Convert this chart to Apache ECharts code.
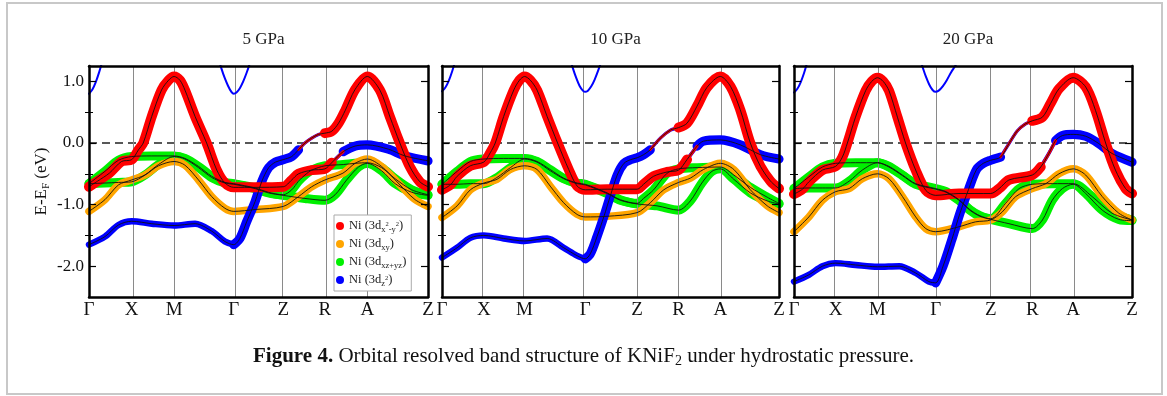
<!DOCTYPE html>
<html>
<head>
<meta charset="utf-8">
<script src="https://cdn.jsdelivr.net/npm/echarts@6/dist/echarts.min.js"></script>
<style>
  html, body { margin: 0; padding: 0; background: #fff; }
  #chart { width: 1167px; height: 396px; }
</style>
</head>
<body>
<div id="chart"></div>
<script>
// ---- path labels and panel titles ----
const kLabels = ['Γ', 'X', 'M', 'Γ', 'Z', 'R', 'A', 'Z'];
const pressures = ['5 GPa', '10 GPa', '20 GPa'];

// ---- 5 GPa: high-symmetry positions (normalised k-distance) and bands [k, E-EF (eV)] ----
const kTicks5 = [0, 0.126, 0.251, 0.427, 0.573, 0.696, 0.821, 1];
const upper5 = [[0,-1.65],[0.047,-1.52],[0.087,-1.33],[0.126,-1.27],[0.185,-1.31],[0.251,-1.34],[0.313,-1.31],[0.362,-1.43],[0.401,-1.60],[0.427,-1.65],[0.445,-1.55],[0.465,-1.28],[0.49,-0.95],[0.51,-0.62],[0.53,-0.40],[0.55,-0.31],[0.573,-0.27],[0.598,-0.22],[0.618,-0.11],[0.637,0.0],[0.657,0.08],[0.677,0.14],[0.696,0.16],[0.716,0.19],[0.736,0.32],[0.756,0.53],[0.785,0.87],[0.821,1.08],[0.858,0.86],[0.888,0.42],[0.917,0.0],[0.947,-0.39],[0.976,-0.63],[1,-0.71]];
const mid5 = [[0,-0.71],[0.025,-0.62],[0.06,-0.49],[0.096,-0.30],[0.126,-0.27],[0.146,-0.11],[0.16,0.0],[0.185,0.43],[0.214,0.86],[0.235,1.02],[0.251,1.08],[0.268,1.02],[0.283,0.86],[0.313,0.43],[0.347,0.0],[0.377,-0.44],[0.401,-0.65],[0.427,-0.72],[0.49,-0.72],[0.573,-0.71],[0.598,-0.60],[0.618,-0.50],[0.657,-0.44],[0.696,-0.42],[0.716,-0.32],[0.75,-0.14],[0.785,-0.05],[0.821,-0.03],[0.883,-0.10],[0.932,-0.21],[1,-0.29]];
const gUp5 = [[0,-0.66],[0.047,-0.46],[0.087,-0.28],[0.126,-0.22],[0.185,-0.21],[0.251,-0.21],[0.283,-0.25],[0.323,-0.38],[0.362,-0.54],[0.401,-0.64],[0.427,-0.66],[0.49,-0.73],[0.529,-0.80],[0.573,-0.84],[0.598,-0.76],[0.618,-0.62],[0.637,-0.52],[0.657,-0.44],[0.696,-0.37],[0.75,-0.35],[0.785,-0.33],[0.821,-0.32],[0.863,-0.40],[0.903,-0.58],[0.952,-0.76],[1,-0.84]];
const gLo5 = [[0,-0.66],[0.047,-0.65],[0.087,-0.64],[0.126,-0.63],[0.165,-0.52],[0.205,-0.35],[0.251,-0.22],[0.283,-0.26],[0.323,-0.40],[0.362,-0.56],[0.401,-0.65],[0.427,-0.67],[0.49,-0.74],[0.529,-0.81],[0.573,-0.85],[0.637,-0.90],[0.696,-0.93],[0.726,-0.84],[0.76,-0.60],[0.795,-0.39],[0.821,-0.33],[0.863,-0.45],[0.903,-0.66],[0.952,-0.80],[1,-0.85]];
const orange5 = [[0,-1.11],[0.047,-0.92],[0.087,-0.68],[0.126,-0.60],[0.165,-0.52],[0.205,-0.37],[0.251,-0.30],[0.283,-0.36],[0.323,-0.60],[0.362,-0.87],[0.401,-1.06],[0.427,-1.11],[0.49,-1.08],[0.573,-1.03],[0.618,-0.87],[0.657,-0.71],[0.696,-0.60],[0.749,-0.49],[0.785,-0.33],[0.821,-0.26],[0.863,-0.38],[0.912,-0.65],[0.962,-0.92],[1,-1.03]];
const topA5 = [[0,0.80],[0.01,0.87],[0.02,0.99],[0.03,1.15],[0.04,1.34]];
const topB5 = [[0.38,1.40],[0.39,1.22],[0.40,1.06],[0.41,0.93],[0.42,0.83],[0.427,0.80],[0.435,0.82],[0.445,0.89],[0.455,1.0],[0.465,1.14],[0.475,1.30]];

// ---- 10 GPa ----
const kTicks10 = [0, 0.124, 0.245, 0.425, 0.579, 0.702, 0.826, 1];
const upper10 = [[0,-1.86],[0.045,-1.70],[0.084,-1.54],[0.124,-1.50],[0.183,-1.55],[0.245,-1.59],[0.312,-1.55],[0.361,-1.70],[0.401,-1.83],[0.425,-1.88],[0.44,-1.80],[0.46,-1.52],[0.48,-1.20],[0.50,-0.85],[0.52,-0.52],[0.54,-0.33],[0.56,-0.27],[0.579,-0.24],[0.598,-0.19],[0.618,-0.11],[0.648,0.08],[0.678,0.21],[0.702,0.25],[0.727,0.32],[0.757,0.60],[0.786,0.90],[0.826,1.08],[0.856,0.92],[0.885,0.54],[0.915,0.0],[0.945,-0.38],[0.975,-0.62],[1,-0.74]];
const mid10 = [[0,-0.76],[0.025,-0.68],[0.045,-0.54],[0.084,-0.37],[0.124,-0.31],[0.143,-0.16],[0.158,0.0],[0.183,0.43],[0.213,0.86],[0.23,1.02],[0.245,1.08],[0.262,1.02],[0.282,0.86],[0.312,0.43],[0.343,0.0],[0.376,-0.43],[0.401,-0.70],[0.425,-0.76],[0.49,-0.75],[0.579,-0.75],[0.598,-0.67],[0.628,-0.54],[0.668,-0.47],[0.702,-0.44],[0.727,-0.27],[0.757,-0.05],[0.776,0.03],[0.826,0.05],[0.885,-0.03],[0.945,-0.19],[1,-0.26]];
const gUp10 = [[0,-0.67],[0.045,-0.46],[0.084,-0.30],[0.124,-0.26],[0.183,-0.25],[0.245,-0.25],[0.282,-0.30],[0.321,-0.43],[0.361,-0.57],[0.401,-0.65],[0.425,-0.67],[0.49,-0.81],[0.529,-0.92],[0.579,-0.98],[0.598,-0.90],[0.628,-0.76],[0.668,-0.49],[0.702,-0.42],[0.757,-0.40],[0.826,-0.39],[0.866,-0.52],[0.915,-0.72],[0.965,-0.88],[1,-0.98]];
const gLo10 = [[0,-0.67],[0.045,-0.67],[0.084,-0.66],[0.124,-0.66],[0.163,-0.56],[0.203,-0.40],[0.245,-0.26],[0.282,-0.31],[0.321,-0.45],[0.361,-0.58],[0.401,-0.66],[0.425,-0.68],[0.49,-0.82],[0.529,-0.93],[0.579,-0.99],[0.638,-1.02],[0.702,-1.09],[0.737,-0.94],[0.771,-0.65],[0.801,-0.46],[0.826,-0.42],[0.866,-0.59],[0.915,-0.81],[0.965,-0.94],[1,-0.99]];
const orange10 = [[0,-1.21],[0.045,-1.02],[0.084,-0.76],[0.124,-0.65],[0.163,-0.59],[0.203,-0.43],[0.245,-0.37],[0.282,-0.43],[0.321,-0.70],[0.361,-0.97],[0.401,-1.16],[0.425,-1.20],[0.49,-1.19],[0.579,-1.13],[0.618,-0.97],[0.658,-0.76],[0.702,-0.64],[0.737,-0.57],[0.776,-0.43],[0.826,-0.33],[0.866,-0.43],[0.915,-0.76],[0.965,-1.02],[1,-1.13]];
const topA10 = [[0,0.84],[0.01,0.90],[0.02,1.01],[0.03,1.16],[0.04,1.35]];
const topB10 = [[0.378,1.40],[0.388,1.22],[0.398,1.06],[0.408,0.93],[0.418,0.85],[0.425,0.83],[0.433,0.85],[0.443,0.92],[0.453,1.03],[0.463,1.17],[0.473,1.33]];

// ---- 20 GPa ----
const kTicks20 = [0, 0.123, 0.247, 0.419, 0.582, 0.705, 0.826, 1];
const upper20 = [[0,-2.25],[0.044,-2.14],[0.084,-2.0],[0.123,-1.95],[0.182,-1.98],[0.247,-2.01],[0.311,-2.0],[0.360,-2.11],[0.399,-2.25],[0.419,-2.27],[0.441,-2.0],[0.467,-1.57],[0.491,-1.14],[0.516,-0.76],[0.54,-0.43],[0.56,-0.33],[0.582,-0.28],[0.611,-0.23],[0.636,-0.01],[0.661,0.20],[0.685,0.31],[0.705,0.36],[0.735,0.42],[0.759,0.64],[0.784,0.88],[0.826,1.06],[0.863,0.91],[0.892,0.53],[0.922,0.0],[0.951,-0.44],[0.981,-0.74],[1,-0.82]];
const mid20 = [[0,-0.83],[0.025,-0.75],[0.044,-0.63],[0.084,-0.44],[0.123,-0.38],[0.143,-0.23],[0.158,0.0],[0.182,0.42],[0.212,0.85],[0.23,1.0],[0.247,1.06],[0.264,1.0],[0.281,0.85],[0.306,0.42],[0.330,0.0],[0.360,-0.44],[0.390,-0.77],[0.419,-0.85],[0.488,-0.82],[0.582,-0.82],[0.607,-0.74],[0.636,-0.60],[0.705,-0.52],[0.730,-0.39],[0.754,-0.17],[0.774,0.04],[0.794,0.12],[0.826,0.14],[0.863,0.11],[0.902,-0.01],[0.941,-0.17],[1,-0.31]];
const gUp20 = [[0,-0.74],[0.044,-0.55],[0.084,-0.39],[0.123,-0.33],[0.182,-0.32],[0.247,-0.32],[0.281,-0.38],[0.321,-0.52],[0.360,-0.66],[0.419,-0.74],[0.45,-0.79],[0.488,-0.92],[0.52,-1.08],[0.55,-1.18],[0.582,-1.23],[0.626,-0.98],[0.666,-0.74],[0.705,-0.67],[0.764,-0.66],[0.826,-0.66],[0.882,-0.87],[0.941,-1.14],[1,-1.25]];
const gLo20 = [[0,-0.74],[0.044,-0.73],[0.084,-0.73],[0.123,-0.73],[0.163,-0.62],[0.202,-0.44],[0.247,-0.32],[0.281,-0.39],[0.321,-0.53],[0.360,-0.67],[0.419,-0.75],[0.45,-0.80],[0.488,-0.93],[0.52,-1.09],[0.55,-1.19],[0.582,-1.24],[0.636,-1.31],[0.705,-1.39],[0.735,-1.25],[0.764,-0.93],[0.794,-0.74],[0.826,-0.67],[0.863,-0.82],[0.912,-1.09],[0.961,-1.24],[1,-1.26]];
const orange20 = [[0,-1.44],[0.044,-1.20],[0.084,-0.93],[0.123,-0.79],[0.163,-0.74],[0.202,-0.58],[0.247,-0.50],[0.281,-0.58],[0.321,-0.87],[0.360,-1.20],[0.390,-1.39],[0.419,-1.44],[0.488,-1.36],[0.537,-1.28],[0.582,-1.25],[0.616,-1.12],[0.656,-0.87],[0.705,-0.74],[0.745,-0.66],[0.784,-0.50],[0.826,-0.42],[0.863,-0.52],[0.912,-0.87],[0.961,-1.14],[1,-1.25]];
const topA20 = [[0,0.82],[0.01,0.88],[0.02,0.99],[0.03,1.14],[0.04,1.33]];
const topB20 = [[0.370,1.40],[0.380,1.24],[0.390,1.08],[0.400,0.95],[0.410,0.86],[0.419,0.83],[0.428,0.85],[0.440,0.92],[0.452,1.02],[0.465,1.15],[0.478,1.26],[0.488,1.38]];

// ---- orbital character along the bands: [band, orbital, kFrom, kTo, relative weight] ----
const weights5 = [
  ['upper','dz2',0,0.427,0.8], ['upper','dz2',0.427,0.618,1.15], ['upper','dz2',0.618,0.716,0.4],
  ['upper','dx2y2',0.618,0.696,0.25], ['upper','dx2y2',0.696,1,1],
  ['mid','dx2y2',0,0.716,1], ['mid','dx2y2',0.716,0.75,0.3],
  ['mid','dz2',0.716,0.75,0.45], ['mid','dz2',0.75,1,1.15],
  ['gUp','dxz',0,1,1], ['gLo','dxz',0,1,1], ['orange','dxy',0,1,1],
  ['topA','dz2',0,1,0.25], ['topB','dz2',0,1,0.25]
];
const weights10 = [
  ['upper','dz2',0,0.425,0.8], ['upper','dz2',0.425,0.618,1.15], ['upper','dz2',0.618,0.727,0.4],
  ['upper','dx2y2',0.618,0.702,0.25], ['upper','dx2y2',0.702,1,1],
  ['mid','dx2y2',0,0.727,1], ['mid','dx2y2',0.727,0.757,0.3],
  ['mid','dz2',0.727,0.757,0.45], ['mid','dz2',0.757,1,1.15],
  ['gUp','dxz',0,1,1], ['gLo','dxz',0,1,1], ['orange','dxy',0,1,1],
  ['topA','dz2',0,1,0.25], ['topB','dz2',0,1,0.25]
];
const weights20 = [
  ['upper','dz2',0,0.419,0.8], ['upper','dz2',0.419,0.611,1.15], ['upper','dz2',0.611,0.735,0.4],
  ['upper','dx2y2',0.611,0.705,0.25], ['upper','dx2y2',0.705,1,1],
  ['mid','dx2y2',0,0.730,1], ['mid','dx2y2',0.730,0.774,0.3],
  ['mid','dz2',0.730,0.774,0.45], ['mid','dz2',0.774,1,1.15],
  ['gUp','dxz',0,1,1], ['gLo','dxz',0,1,1], ['orange','dxy',0,1,1],
  ['topA','dz2',0,1,0.25], ['topB','dz2',0,1,0.25]
];

const panels = [
  { title: pressures[0], ticks: kTicks5, weights: weights5,
    bands: { upper: upper5, mid: mid5, gUp: gUp5, gLo: gLo5, orange: orange5, topA: topA5, topB: topB5 } },
  { title: pressures[1], ticks: kTicks10, weights: weights10,
    bands: { upper: upper10, mid: mid10, gUp: gUp10, gLo: gLo10, orange: orange10, topA: topA10, topB: topB10 } },
  { title: pressures[2], ticks: kTicks20, weights: weights20,
    bands: { upper: upper20, mid: mid20, gUp: gUp20, gLo: gLo20, orange: orange20, topA: topA20, topB: topB20 } }
];

// ---- styling ----
const serif = "'Liberation Serif', 'DejaVu Serif', serif";
const orbColor = { dx2y2: '#ff0000', dxy: '#ffa500', dxz: '#00f000', dz2: '#0000ff' };
const orbWidth = { dx2y2: 10, dxy: 7.5, dxz: 9, dz2: 8 };
const orbZ = { dxz: 3, dxy: 4, dz2: 5, dx2y2: 6 };
const orbLegend = {
  dx2y2: '{n|Ni (3d}{s|x}{p|2}{s|-y}{p|2}{n|)}',
  dxy: '{n|Ni (3d}{s|xy}{n|)}',
  dxz: '{n|Ni (3d}{s|xz+yz}{n|)}',
  dz2: '{n|Ni (3d}{s|z}{p|2}{n|)}'
};
const gridLeft = [89, 442, 794];
const gridWidth = [339, 337, 338];
const gridTop = 66, gridHeight = 231;
const majorE = [-2, -1, 0, 1];
const minorE = [-1.5, -0.5, 0.5];
const smoothing = 0.3;

function sliceBand(pts, from, to) {
  return pts.filter(p => p[0] >= from - 1e-9 && p[0] <= to + 1e-9);
}

const grids = [], xAxes = [], yAxes = [], series = [], titles = [];
const frame = { show: true, onZero: false, lineStyle: { color: '#000', width: 2.5 } };

panels.forEach((p, i) => {
  grids.push({ left: gridLeft[i], top: gridTop, width: gridWidth[i], height: gridHeight });
  titles.push({
    text: p.title, left: gridLeft[i] + gridWidth[i] / 2, top: 26, textAlign: 'center',
    textStyle: { fontFamily: serif, fontSize: 17, fontWeight: 'normal', color: '#222' }
  });
  const ticks = p.ticks;
  xAxes.push({
    type: 'value', gridIndex: i, min: 0, max: 1, position: 'bottom', z: 10,
    axisLine: frame, axisTick: { show: false }, splitLine: { show: false },
    axisLabel: {
      customValues: ticks, showMinLabel: true, showMaxLabel: true, hideOverlap: false,
      formatter: (v, idx) => { const j = ticks.indexOf(v); return kLabels[j >= 0 ? j : idx] || ''; },
      fontFamily: serif, fontSize: 19, color: '#111', margin: 4
    }
  });
  xAxes.push({
    type: 'value', gridIndex: i, min: 0, max: 1, position: 'top', z: 10,
    axisLine: frame, axisTick: { show: false }, axisLabel: { show: false }, splitLine: { show: false }
  });
  ['left', 'right'].forEach(side => {
    const major = {
      type: 'value', gridIndex: i, min: -2.5, max: 1.25, position: side, z: 10,
      axisLine: frame, splitLine: { show: false },
      axisTick: { show: true, inside: true, length: 7, customValues: majorE, lineStyle: { color: '#000', width: 1.2 } },
      axisLabel: {
        show: i === 0 && side === 'left', customValues: majorE,
        formatter: v => v.toFixed(1), fontFamily: serif, fontSize: 17, color: '#111', margin: 5
      }
    };
    if (i === 0 && side === 'left') {
      Object.assign(major, {
        name: '{n|E-E}{s|F}{n| (eV)}', nameLocation: 'middle', nameGap: 38, nameRotate: 90,
        nameTextStyle: {
          fontFamily: serif, fontSize: 17, color: '#111',
          rich: {
            n: { fontFamily: serif, fontSize: 17, color: '#111', lineHeight: 18 },
            s: { fontFamily: serif, fontSize: 11, color: '#111', lineHeight: 11, padding: [8, 0, 0, 0] }
          }
        }
      });
    }
    yAxes.push(major);
    yAxes.push({
      type: 'value', gridIndex: i, min: -2.5, max: 1.25, position: side, z: 10,
      axisLine: { show: false }, splitLine: { show: false }, axisLabel: { show: false },
      axisTick: { show: true, inside: true, length: 4, customValues: minorE, lineStyle: { color: '#000', width: 1 } }
    });
  });

  const xa = 2 * i, ya = 4 * i;
  // Fermi level and high-symmetry guide lines
  series.push({
    type: 'line', xAxisIndex: xa, yAxisIndex: ya, data: [], silent: true, z: 1,
    markLine: {
      silent: true, symbol: 'none', label: { show: false }, animation: false,
      data: [{ yAxis: 0, lineStyle: { type: [8, 5], color: '#222', width: 1.5 } }]
        .concat(ticks.slice(1, -1).map(k => ({ xAxis: k, lineStyle: { type: 'solid', color: '#8a8a8a', width: 1 } })))
    }
  });
  // fat bands: orbital character
  p.weights.forEach(([band, orb, from, to, w]) => {
    series.push({
      name: orb, type: 'line', xAxisIndex: xa, yAxisIndex: ya,
      data: sliceBand(p.bands[band], from, to),
      showSymbol: false, smooth: smoothing, silent: true,
      clip: band.startsWith('top'), z: orbZ[orb],
      lineStyle: { color: orbColor[orb], width: orbWidth[orb] * w, cap: 'round', join: 'round' },
      itemStyle: { color: orbColor[orb] }
    });
  });
  // plain band lines
  ['upper', 'mid', 'gUp', 'gLo', 'orange'].forEach(b => {
    series.push({
      type: 'line', xAxisIndex: xa, yAxisIndex: ya, data: p.bands[b],
      showSymbol: false, smooth: smoothing, silent: true, clip: false, z: 8,
      lineStyle: { color: '#111', width: 0.9 }
    });
  });
});

titles.push({
  text: '{b|Figure 4.} Orbital resolved band structure of KNiF{sub|2} under hydrostatic pressure.',
  left: 'center', top: 341,
  textStyle: {
    fontFamily: serif, fontSize: 21, fontWeight: 'normal', color: '#111',
    rich: {
      b: { fontFamily: serif, fontSize: 21, fontWeight: 'bold', color: '#111' },
      sub: { fontFamily: serif, fontSize: 14, color: '#111', lineHeight: 14, padding: [9, 0, 0, 0] }
    }
  }
});

const chart = echarts.init(document.getElementById('chart'), null, { renderer: 'canvas' });
chart.setOption({
  animation: false,
  backgroundColor: '#fff',
  title: titles,
  grid: grids,
  xAxis: xAxes,
  yAxis: yAxes,
  legend: {
    data: ['dx2y2', 'dxy', 'dxz', 'dz2'], orient: 'vertical', left: 334, top: 215,
    icon: 'circle', itemWidth: 8, itemHeight: 8, itemGap: 2, selectedMode: false,
    padding: [3, 5, 3, 2], borderColor: '#aaa', borderWidth: 1, backgroundColor: '#fff', z: 20,
    formatter: n => orbLegend[n],
    textStyle: {
      fontFamily: serif, fontSize: 12.5, color: '#222',
      rich: {
        n: { fontFamily: serif, fontSize: 12.5, color: '#222', lineHeight: 15 },
        s: { fontFamily: serif, fontSize: 8.5, color: '#222', lineHeight: 9, padding: [7, 0, 0, 0] },
        p: { fontFamily: serif, fontSize: 6.5, color: '#222', lineHeight: 7, padding: [0, 0, 3, 0] }
      }
    }
  },
  graphic: [{
    type: 'rect', silent: true, z: -1,
    shape: { x: 7, y: 3, width: 1155, height: 391 },
    style: { fill: 'none', stroke: '#c8c8c8', lineWidth: 2 }
  }],
  series: series
});
</script>
</body>
</html>
